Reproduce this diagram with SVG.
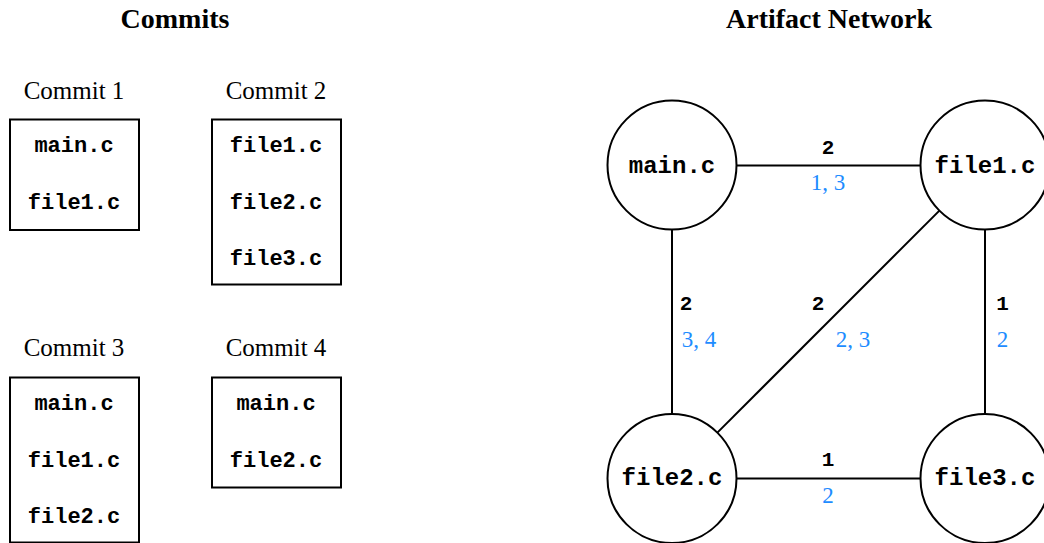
<svg xmlns="http://www.w3.org/2000/svg" width="1044" height="543" viewBox="0 0 1044 543">
<style>
.title{font-family:"Liberation Serif","Times New Roman",serif;font-size:28px;font-weight:bold;fill:#000;text-anchor:middle}
.clabel{font-family:"Liberation Serif","Times New Roman",serif;font-size:25px;fill:#000;text-anchor:middle}
.box{fill:#fff;stroke:#000;stroke-width:2}
.ftxt{font-family:"Liberation Mono","Courier New",monospace;font-size:22px;font-weight:bold;fill:#000;text-anchor:middle}
.node{fill:#fff;stroke:#000;stroke-width:2}
.ntxt{font-family:"Liberation Mono","Courier New",monospace;font-size:24px;font-weight:bold;fill:#000;text-anchor:middle}
.edge{stroke:#000;stroke-width:2;fill:none}
.w{font-family:"Liberation Mono","Courier New",monospace;font-size:21px;font-weight:bold;fill:#000;text-anchor:middle}
.c{font-family:"Liberation Serif","Times New Roman",serif;font-size:23px;fill:#1E8CFF;text-anchor:middle}
</style>
<rect width="1044" height="543" fill="#fff"/>
<text class="title" x="175" y="28">Commits</text>
<text class="title" x="829" y="28">Artifact Network</text>

<g id="commit1">
<text class="clabel" x="74" y="99">Commit 1</text>
<rect class="box" x="10" y="119.5" width="129" height="110.5"/>
<text class="ftxt" x="74" y="152">main.c</text>
<text class="ftxt" x="74" y="208.5">file1.c</text>
</g>
<g id="commit2">
<text class="clabel" x="276" y="99">Commit 2</text>
<rect class="box" x="212" y="119.5" width="129" height="165"/>
<text class="ftxt" x="276" y="152">file1.c</text>
<text class="ftxt" x="276" y="208.5">file2.c</text>
<text class="ftxt" x="276" y="265">file3.c</text>
</g>
<g id="commit3">
<text class="clabel" x="74" y="356">Commit 3</text>
<rect class="box" x="10" y="377.5" width="129" height="165"/>
<text class="ftxt" x="74" y="410">main.c</text>
<text class="ftxt" x="74" y="466.5">file1.c</text>
<text class="ftxt" x="74" y="523">file2.c</text>
</g>
<g id="commit4">
<text class="clabel" x="276" y="356">Commit 4</text>
<rect class="box" x="212" y="377.5" width="129" height="110"/>
<text class="ftxt" x="276" y="410">main.c</text>
<text class="ftxt" x="276" y="466.5">file2.c</text>
</g>

<g id="connectors">
<line class="edge" x1="736.5" y1="165.5" x2="920.5" y2="165.5"/>
<line class="edge" x1="672" y1="229.5" x2="672" y2="414"/>
<line class="edge" x1="939.4" y1="210.6" x2="717.6" y2="432.4"/>
<line class="edge" x1="985" y1="229.5" x2="985" y2="414"/>
<line class="edge" x1="736.5" y1="478.5" x2="920.5" y2="478.5"/>
<text class="w" x="828" y="154">2</text>
<text class="c" x="828" y="190">1, 3</text>
<text class="w" x="686" y="310">2</text>
<text class="c" x="699" y="347">3, 4</text>
<text class="w" x="818" y="310">2</text>
<text class="c" x="853" y="347">2, 3</text>
<text class="w" x="1002.5" y="310">1</text>
<text class="c" x="1002.5" y="347">2</text>
<text class="w" x="828" y="466">1</text>
<text class="c" x="828" y="503">2</text>
</g>

<g id="node-main">
<circle class="node" cx="672" cy="165" r="64.5"/>
<text class="ntxt" x="672" y="172.5">main.c</text>
</g>
<g id="node-file1">
<circle class="node" cx="985" cy="165" r="64.5"/>
<text class="ntxt" x="985" y="172.5">file1.c</text>
</g>
<g id="node-file2">
<circle class="node" cx="672" cy="478.5" r="64.5"/>
<text class="ntxt" x="672" y="484.5">file2.c</text>
</g>
<g id="node-file3">
<circle class="node" cx="985" cy="478.5" r="64.5"/>
<text class="ntxt" x="985" y="484.5">file3.c</text>
</g>
</svg>
